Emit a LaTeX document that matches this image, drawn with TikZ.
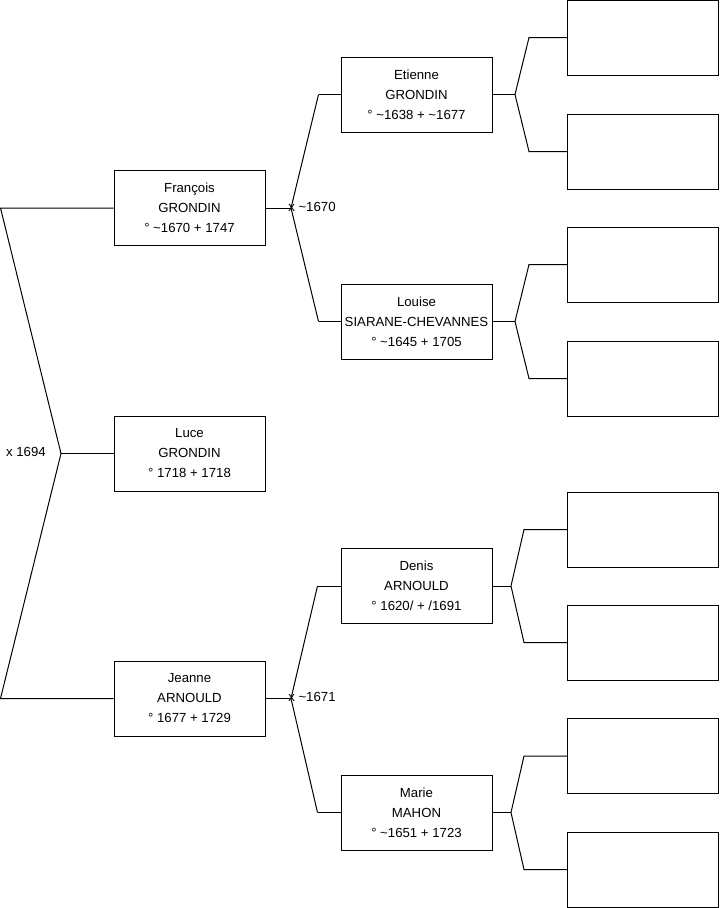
\documentclass[tikz,border=0pt]{standalone}
\usepackage{fontspec}
\setmainfont{Liberation Sans}
\usetikzlibrary{positioning, calc}
\tikzset{
    person/.style={rectangle, draw=black, fill=white, line width=0.75pt, minimum width=113.25pt, minimum height=56.25pt, align=center, inner sep=0pt, font=\fontsize{9.9}{15}\selectfont},
    unknown/.style={rectangle, draw=black, fill=white, line width=0.75pt, minimum width=113.25pt, minimum height=56.25pt, inner sep=0pt},
    link/.style={line width=0.75pt, color=black},
    marr/.style={font=\fontsize{9.9}{12}\selectfont, inner sep=0pt}
}
\begin{document}
\begin{tikzpicture}[x=0.75pt, y=-0.75pt]
    \useasboundingbox (0,0) rectangle (719,908);

    % Generation 1
    \node[person] (francois) at (189.5,208) {François\\GRONDIN\\° \textasciitilde1670 + 1747};
    \node[person] (luce) at (189.5,453.5) {Luce\\GRONDIN\\° 1718 + 1718};
    \node[person] (jeanne) at (189.5,698.5) {Jeanne\\ARNOULD\\° 1677 + 1729};

    % Generation 2
    \node[person] (etienne) at (416.5,94.5) {Etienne\\GRONDIN\\° \textasciitilde1638 + \textasciitilde1677};
    \node[person] (louise) at (416.5,321.5) {Louise\\SIARANE-CHEVANNES\\° \textasciitilde1645 + 1705};
    \node[person] (denis) at (416.5,586) {Denis\\ARNOULD\\° 1620/ + /1691};
    \node[person] (marie) at (416.5,812.5) {Marie\\MAHON\\° \textasciitilde1651 + 1723};

    % Generation 3 (empty)
    \node[unknown] (e1) at (643,37.5) {};
    \node[unknown] (e2) at (643,151.5) {};
    \node[unknown] (e3) at (643,264.5) {};
    \node[unknown] (e4) at (643,378.5) {};
    \node[unknown] (e5) at (643,529.5) {};
    \node[unknown] (e6) at (643,642.5) {};
    \node[unknown] (e7) at (643,756) {};
    \node[unknown] (e8) at (643,869.5) {};

    % Fork points
    \coordinate (m0) at (61,453.5);
    \coordinate (m0a) at (0.5,208);
    \coordinate (m0b) at (0.5,698.5);
    \coordinate (m1) at (291,208);
    \coordinate (m2) at (291,698.5);
    \coordinate (m3) at (515,94.5);
    \coordinate (m4) at (515,321.5);
    \coordinate (m5) at (511,586);
    \coordinate (m6) at (511,812.5);

    % Parents of Luce
    \draw[link] (francois.west) -- (m0a) -- (m0) -- (m0b) -- (jeanne.west);
    \draw[link] (m0) -- (luce.west);
    \node[marr, anchor=east] (x0) at (46,451.5) {x 1694};

    % Parents of François and Jeanne
    \draw[link] (francois.east) -- (m1);
    \draw[link] ($(etienne.west)+(-22,0)$) -- (m1) -- ($(louise.west)+(-22,0)$);
    \draw[link] ($(etienne.west)+(-22,0)$) -- (etienne.west);
    \draw[link] ($(louise.west)+(-22,0)$) -- (louise.west);
    \node[marr, anchor=west] (x1) at (288,206.5) {x \textasciitilde1670};

    \draw[link] (jeanne.east) -- (m2);
    \draw[link] ($(denis.west)+(-23,0)$) -- (m2) -- ($(marie.west)+(-23,0)$);
    \draw[link] ($(denis.west)+(-23,0)$) -- (denis.west);
    \draw[link] ($(marie.west)+(-23,0)$) -- (marie.west);
    \node[marr, anchor=west] (x2) at (288,697) {x \textasciitilde1671};

    % Third generation links
    \draw[link] (etienne.east) -- (m3);
    \draw[link] (e1.west) -- ++(-38,0) -- (m3) -- ($(e2.west)+(-38,0)$) -- (e2.west);
    \draw[link] (louise.east) -- (m4);
    \draw[link] (e3.west) -- ++(-38,0) -- (m4) -- ($(e4.west)+(-38,0)$) -- (e4.west);
    \draw[link] (denis.east) -- (m5);
    \draw[link] (e5.west) -- ++(-43,0) -- (m5) -- ($(e6.west)+(-43,0)$) -- (e6.west);
    \draw[link] (marie.east) -- (m6);
    \draw[link] (e7.west) -- ++(-43,0) -- (m6) -- ($(e8.west)+(-43,0)$) -- (e8.west);
\end{tikzpicture}
\end{document}
